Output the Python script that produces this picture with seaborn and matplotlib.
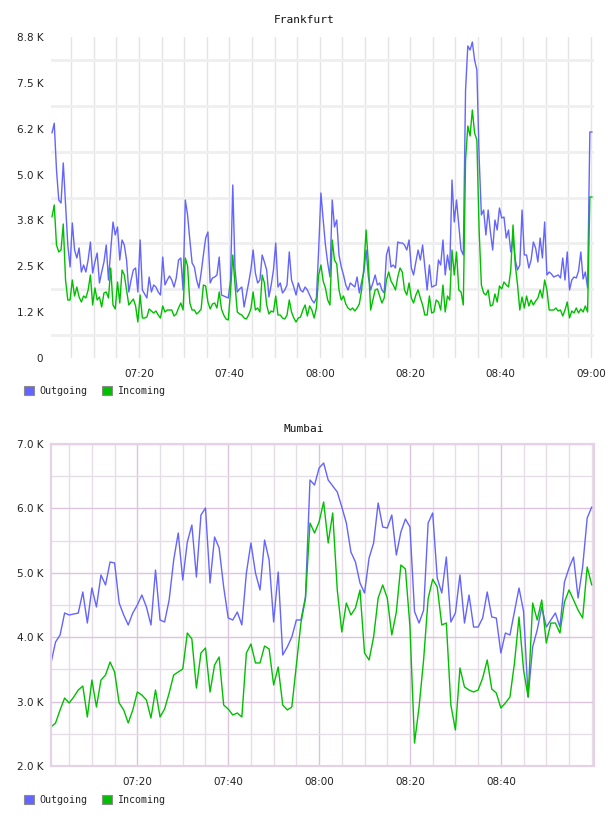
import pandas as pd
import matplotlib
matplotlib.use("Agg")
import matplotlib.pyplot as plt
import matplotlib.dates as mdates
from matplotlib.patches import Patch
import seaborn as sns

day = "2024-01-01 "

# Frankfurt: one sample every 30 s starting 07:00:45
fra_start = day + "07:00:45"
fra_out = [
    6134, 6400, 5125, 4307, 4225, 5316, 4171, 3080, 2481, 3680,
    2944, 2726, 2999, 2344, 2535, 2344, 2671, 3162, 2317, 2617,
    2862, 2045, 2344, 2617, 3080, 2126, 2944, 3707, 3353, 3571,
    2671, 3217, 3080, 2671, 1799, 2126, 2399, 2453, 1799, 3217,
    1854, 1745, 1636, 2208, 1799, 1990, 1935, 1799, 1717, 2753,
    1990, 2126, 2236, 2126, 1935, 2181, 2671, 2726, 1854, 4307,
    3898, 3217, 2590, 2481, 2126, 1908, 2317, 2808, 3271, 3435,
    2045, 2181, 2208, 2263, 2753, 1717, 1690, 1663, 1636, 2126,
    4716, 2399, 1799, 1881, 1935, 1390, 1717, 2045, 2399, 2944,
    2317, 2045, 2126, 2808, 2617, 2399, 1663, 1990, 2399, 3135,
    1935, 2045, 1772, 1854, 1990, 2890, 2126, 1935, 1717, 2045,
    1854, 1799, 1935, 1854, 1717, 1581, 1499, 1636, 2944, 4498,
    3762, 3080, 2590, 2208, 4307, 3571, 3762, 2808, 2481, 2263,
    1990, 1854, 2045, 1990, 1935, 2208, 1772, 2072, 2344, 2944,
    2208, 1854, 2045, 2263, 1990, 2045, 1854, 1772, 2808, 3026,
    2481, 2535, 2453, 3162, 3135, 3135, 3080, 2944, 3217, 2453,
    2263, 2617, 2944, 2671, 3080, 2453, 1854, 2535, 1935, 1963,
    1990, 2671, 2535, 3217, 2263, 2808, 2399, 4852, 3707, 4307,
    3626, 2944, 2808, 7306, 8505, 8396, 8614, 8123, 7851, 5479,
    3898, 4034, 3353, 4034, 3435, 2944, 3762, 3489, 4089, 3816,
    3844, 3271, 3489, 2890, 3271, 2671, 2399, 2535, 4034, 2808,
    2808, 2453, 2671, 3162, 2999, 2617, 3271, 2726, 3707, 2263,
    2344, 2290, 2208, 2236, 2263, 2181, 2726, 2126, 2890, 1854,
    2126, 2208, 2181, 2372, 2890, 2154, 2344, 1908, 6161, 6161,
]
fra_in = [
    3844, 4171, 3080, 2890, 2944, 3653, 2126, 1581, 1581, 2126,
    1690, 1935, 1663, 1527, 1690, 1636, 1854, 2263, 1445, 1908,
    1581, 1663, 1390, 1772, 1799, 1636, 2453, 1445, 1336, 2072,
    1499, 2399, 2263, 1854, 1445, 1527, 1608, 1418, 981, 1717,
    1090, 1090, 1118, 1336, 1281, 1227, 1281, 1172, 1090, 1418,
    1254, 1308, 1308, 1308, 1145, 1200, 1363, 1499, 1308, 2726,
    2508, 1499, 1308, 1308, 1200, 1254, 1336, 1990, 1963, 1527,
    1336, 1472, 1499, 1363, 1799, 1336, 1172, 1063, 1036, 1799,
    2808, 1990, 1254, 1200, 1172, 1090, 1063, 1172, 1336, 1799,
    1308, 1363, 1254, 2263, 2045, 1445, 1200, 1281, 1254, 1690,
    1172, 1172, 1090, 1063, 1172, 1581, 1254, 1090, 981, 1090,
    1118, 1308, 1445, 1145, 1418, 1308, 1090, 1363, 2263, 2535,
    2099, 1908, 1581, 1445, 3217, 2671, 2563, 1854, 1581, 1690,
    1472, 1363, 1308, 1363, 1281, 1363, 1472, 1854, 2453, 3489,
    2590, 1308, 1581, 1854, 1881, 1690, 1499, 1636, 2126, 2344,
    2099, 1990, 1854, 2208, 2453, 2344, 1854, 1717, 2045, 1636,
    1499, 1717, 1854, 1636, 1445, 1172, 1172, 1690, 1227, 1254,
    1581, 1527, 1308, 1990, 1254, 1690, 1581, 2944, 2263, 2890,
    1854, 1799, 1445, 5398, 6324, 6052, 6760, 6134, 5943, 3489,
    1990, 1772, 1717, 1854, 1418, 1445, 1745, 1527, 1963, 1881,
    2072, 1990, 1935, 2399, 3626, 2535, 1990, 1308, 1663, 1363,
    1690, 1418, 1581, 1445, 1554, 1636, 1854, 1636, 2126, 1854,
    1308, 1308, 1308, 1363, 1281, 1308, 1145, 1308, 1527, 1090,
    1281, 1227, 1363, 1227, 1336, 1254, 1418, 1254, 4389, 4389,
]

# Mumbai: one sample per minute starting 07:01
mum_start = day + "07:01:00"
mum_out = [
    3600, 3925, 4034, 4376, 4345, 4360, 4375, 4702, 4220, 4764,
    4469, 4966, 4811, 5168, 5152, 4531, 4345, 4190, 4376, 4500,
    4655, 4469, 4190, 5043, 4267, 4236, 4578, 5199, 5618, 4888,
    5478, 5742, 4935, 5898, 6006, 4842, 5556, 5385, 4780, 4298,
    4267, 4391, 4190, 4997, 5463, 4997, 4733, 5509, 5199, 4236,
    5012, 3724, 3848, 4003, 4267, 4267, 4624, 6441, 6363, 6627,
    6705, 6441, 6348, 6255, 6022, 5773, 5323, 5168, 4842, 4686,
    5230, 5463, 6084, 5711, 5696, 5898, 5276, 5634, 5835, 5711,
    4400, 4220, 4420, 5773, 5929, 4919, 4686, 5245, 4236, 4376,
    4966, 4220, 4655, 4158, 4158, 4298, 4702, 4314, 4298, 3755,
    4065, 4034, 4400, 4764, 4400, 3071, 3848, 4112, 4469, 4158,
    4267, 4376, 4158, 4857, 5074, 5245, 4609, 5090, 5851, 6022,
]
mum_in = [
    2606, 2668, 2870, 3056, 2978, 3071, 3180, 3242, 2761, 3335,
    2916, 3335, 3413, 3615, 3460, 2978, 2870, 2668, 2870, 3149,
    3102, 3025, 2745, 3180, 2761, 2885, 3133, 3413, 3460, 3506,
    4065, 3972, 3211, 3755, 3832, 3149, 3568, 3693, 2947, 2885,
    2792, 2823, 2761, 3755, 3894, 3600, 3600, 3863, 3817, 3258,
    3537, 2947, 2870, 2916, 3568, 4220, 4600, 5773, 5618, 5789,
    6099, 5463, 5929, 4733, 4081, 4531, 4345, 4453, 4733, 3755,
    3646, 4003, 4609, 4811, 4609, 4034, 4391, 5121, 5059, 4158,
    2357, 2916, 3646, 4600, 4900, 4780, 4190, 4220, 2947, 2559,
    3522, 3227, 3180, 3149, 3180, 3366, 3646, 3196, 3133, 2901,
    2978, 3071, 3600, 4314, 3491, 3071, 4531, 4267, 4578, 3910,
    4220, 4220, 4065, 4547, 4733, 4578, 4420, 4298, 5090, 4811,
]

series_names = ["Outgoing", "Incoming"]
series_colors = ["#6464ff", "#00c000"]

fra_yticks = [0, 1250, 2500, 3750, 5000, 6250, 7500, 8750]
fra_ylabels = ["0", "1.2 K", "2.5 K", "3.8 K", "5.0 K", "6.2 K", "7.5 K", "8.8 K"]
fra_ygrid = [625, 1875, 3125, 4375, 5625, 6875, 8125]

mum_yticks = [2000, 3000, 4000, 5000, 6000, 7000]
mum_ylabels = ["2.0 K", "3.0 K", "4.0 K", "5.0 K", "6.0 K", "7.0 K"]
mum_ygrid = [2500, 3500, 4500, 5500, 6500]
mum_xticks = ["07:20", "07:40", "08:00", "08:20", "08:40"]


def long_frame(start, freq, out, inc):
    t = pd.date_range(start, periods=len(out), freq=freq)
    df = pd.DataFrame({"time": t, "Outgoing": out, "Incoming": inc})
    return df.melt(id_vars="time", var_name="series", value_name="value")


sns.set_style("white")
plt.rcParams["font.family"] = ["DejaVu Sans"]

fra = long_frame(fra_start, "30s", fra_out, fra_in)
mum = long_frame(mum_start, "60s", mum_out, mum_in)
palette = dict(zip(series_names, series_colors))

fig = plt.figure(figsize=(6.08, 8.16), dpi=100)
ax1 = fig.add_axes([51 / 608, 1 - 358 / 816, 543 / 608, 321 / 816])
ax2 = fig.add_axes([51 / 608, 1 - 766 / 816, 543 / 608, 322 / 816])

for ax, df in [(ax1, fra), (ax2, mum)]:
    sns.lineplot(data=df, x="time", y="value", hue="series", hue_order=series_names,
                 palette=palette, estimator=None, linewidth=1.0, legend=False, ax=ax)
    ax.set_xlabel("")
    ax.set_ylabel("")
    ax.xaxis.set_major_formatter(mdates.DateFormatter("%H:%M"))
    ax.xaxis.set_minor_locator(mdates.MinuteLocator(byminute=range(0, 60, 5)))
    ax.tick_params(which="both", length=0, labelsize=7.5, labelcolor="#222222")
    ax.tick_params(axis="x", pad=8)
    ax.tick_params(axis="y", pad=5.5)
    ax.set_axisbelow(True)

# --- Frankfurt ---
ax1.set_xlim(pd.Timestamp(day + "07:00:32"), pd.Timestamp(day + "09:00:40"))
ax1.xaxis.set_major_locator(mdates.MinuteLocator(byminute=[0, 20, 40]))
ax1.set_ylim(0, 8750)
ax1.set_yticks(fra_yticks, labels=fra_ylabels)
ax1.set_yticks(fra_ygrid, minor=True)
ax1.grid(axis="x", which="both", color="#e4e4e4", linewidth=1)
ax1.grid(axis="y", which="major", visible=False)
ax1.grid(axis="y", which="minor", color="#efefef", linewidth=2)
for s in ax1.spines.values():
    s.set_visible(False)

# --- Mumbai ---
ax2.set_xlim(pd.Timestamp(day + "07:01:00"), pd.Timestamp(day + "09:00:30"))
ax2.set_xticks([pd.Timestamp(day + t) for t in mum_xticks])
ax2.xaxis.set_major_formatter(mdates.DateFormatter("%H:%M"))
ax2.set_ylim(2000, 7000)
ax2.set_yticks(mum_yticks, labels=mum_ylabels)
ax2.set_yticks(mum_ygrid, minor=True)
ax2.grid(which="minor", color="#e6dee6", linewidth=1)
ax2.grid(which="major", color="#dcc4dc", linewidth=1)
for s in ax2.spines.values():
    s.set_visible(True)
    s.set_color("#e6d2e6")
    s.set_linewidth(1.6)

# titles
fig.text(0.5, 1 - 20 / 816, "Frankfurt", ha="center", va="center",
         family="DejaVu Sans Mono", fontsize=8, color="#111111")
fig.text(0.5, 1 - 429 / 816, "Mumbai", ha="center", va="center",
         family="DejaVu Sans Mono", fontsize=8, color="#111111")

# legends
handles = [Patch(facecolor=c, edgecolor="#8c8c8c", linewidth=0.8, label=n)
           for n, c in zip(series_names, series_colors)]
for ax, ytop in [(ax1, 386), (ax2, 795)]:
    ax.legend(handles=handles, loc="upper left", bbox_to_anchor=(24 / 608, 1 - ytop / 816),
              bbox_transform=fig.transFigure, ncol=2, frameon=False,
              prop={"family": "DejaVu Sans Mono", "size": 7.2},
              handlelength=1.0, handleheight=1.0, handletextpad=0.5,
              columnspacing=1.5, borderpad=0, borderaxespad=0)

fig.savefig("out.png", dpi=100)
